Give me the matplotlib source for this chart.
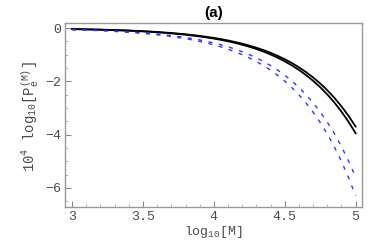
import matplotlib
matplotlib.use("Agg")
import matplotlib.pyplot as plt
from matplotlib.ticker import MultipleLocator

# Data
x_vals = [3.0, 3.1, 3.2, 3.3, 3.4, 3.5, 3.6, 3.7, 3.8, 3.9, 4.0,
          4.05, 4.1, 4.15, 4.2, 4.25, 4.3, 4.35, 4.4, 4.45, 4.5,
          4.55, 4.6, 4.65, 4.7, 4.75, 4.8, 4.85, 4.9, 4.95, 5.0]

black_upper = [-0.037, -0.047, -0.059, -0.074, -0.093, -0.117, -0.147, -0.185, -0.233, -0.294, -0.370,
               -0.415, -0.466, -0.523, -0.586, -0.658, -0.738, -0.828, -0.929, -1.043, -1.170,
               -1.313, -1.473, -1.653, -1.854, -2.081, -2.335, -2.619, -2.939, -3.298, -3.70]

black_lower = [-0.040, -0.050, -0.063, -0.079, -0.099, -0.125, -0.157, -0.198, -0.249, -0.314, -0.395,
               -0.443, -0.497, -0.558, -0.626, -0.702, -0.788, -0.884, -0.992, -1.113, -1.249,
               -1.402, -1.573, -1.764, -1.980, -2.221, -2.492, -2.796, -3.138, -3.520, -3.95]

blue_upper = [-0.056, -0.071, -0.089, -0.112, -0.141, -0.177, -0.223, -0.281, -0.353, -0.445, -0.560,
              -0.628, -0.705, -0.791, -0.888, -0.996, -1.117, -1.254, -1.407, -1.578, -1.771,
              -1.987, -2.229, -2.501, -2.807, -3.149, -3.533, -3.965, -4.448, -4.991, -5.60]

blue_lower = [-0.063, -0.079, -0.100, -0.126, -0.158, -0.199, -0.251, -0.316, -0.398, -0.500, -0.630,
              -0.707, -0.793, -0.890, -0.998, -1.120, -1.257, -1.410, -1.582, -1.776, -1.992,
              -2.235, -2.508, -2.814, -3.157, -3.543, -3.975, -4.460, -5.004, -5.615, -6.30]

x_ticks = [3, 3.5, 4, 4.5, 5]
x_tick_labels = ["3", "3.5", "4", "4.5", "5"]
y_ticks = [0, -2, -4, -6]
y_tick_labels = ["0", "\u22122", "\u22124", "\u22126"]

plt.rcParams['mathtext.fontset'] = 'custom'
plt.rcParams['mathtext.rm'] = 'Liberation Mono'
plt.rcParams['mathtext.it'] = 'Liberation Mono'

TXT = '#4a4a4a'

fig = plt.figure(figsize=(3.88, 2.40), dpi=100)
ax = fig.add_axes([65/388, 33/240, (362-65)/388, (207-23)/240])

ax.plot(x_vals, black_upper, color='black', lw=1.3)
ax.plot(x_vals, black_lower, color='black', lw=1.3)
ax.plot(x_vals, blue_upper, color=(0.2, 0.2, 1.0), lw=1.0, dashes=(2.9, 4.7))
ax.plot(x_vals, blue_lower, color=(0.2, 0.2, 1.0), lw=1.0, dashes=(2.9, 4.7))

ax.set_xlim(2.95, 5.045)
ax.set_ylim(-6.72, 0.19)

ax.set_xticks(x_ticks)
ax.set_xticklabels(x_tick_labels)
ax.set_yticks(y_ticks)
ax.set_yticklabels(y_tick_labels)
ax.xaxis.set_minor_locator(MultipleLocator(0.1))
ax.yaxis.set_minor_locator(MultipleLocator(0.5))

for s in ax.spines.values():
    s.set_color('#999999')
    s.set_linewidth(1.0)

ax.tick_params(axis='both', which='major', direction='in', length=4, width=0.8,
               color='#888888', labelcolor=TXT, pad=3)
ax.tick_params(axis='both', which='minor', direction='in', length=2, width=0.6,
               color='#aaaaaa')
for lab in ax.get_xticklabels() + ax.get_yticklabels():
    lab.set_fontfamily('Liberation Mono')
    lab.set_fontsize(9.5)

xl = ax.set_xlabel(r'log$_{10}$[M]', fontfamily='Liberation Mono', fontsize=9.5,
                   color=TXT)
ax.xaxis.set_label_coords(0.5, -0.150)
xl.set_va('baseline')
ax.set_ylabel(r'10$^{4}$ log$_{10}$[P$_{e}^{(M)}$]', fontfamily='Liberation Mono',
              fontsize=10, color=TXT)
ax.yaxis.set_label_coords(-0.08, 0.49)
ax.set_title('(a)', fontfamily='Liberation Sans', fontweight='bold', fontsize=11, pad=4)

fig.savefig('out.png', dpi=100)
